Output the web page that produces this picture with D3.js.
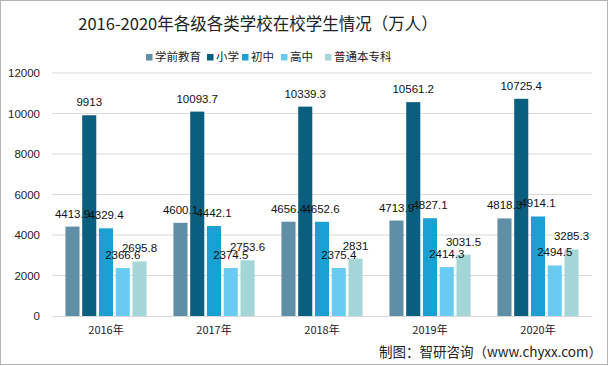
<!DOCTYPE html>
<html><head><meta charset="utf-8">
<script src="https://cdn.jsdelivr.net/npm/d3@7"></script>
<style>
html,body{margin:0;padding:0;background:#fff;}
svg{display:block;}
</style></head>
<body>
<script>
const years = ["2016年","2017年","2018年","2019年","2020年"];
const seriesNames = ["学前教育","小学","初中","高中","普通本专科"];
const preschool = [4413.9, 4600.1, 4656.4, 4713.9, 4818.3];
const primary = [9913, 10093.7, 10339.3, 10561.2, 10725.4];
const junior = [4329.4, 4442.1, 4652.6, 4827.1, 4914.1];
const senior = [2366.6, 2374.5, 2375.4, 2414.3, 2494.5];
const college = [2695.8, 2753.6, 2831, 3031.5, 3285.3];
const yTicks = [0, 2000, 4000, 6000, 8000, 10000, 12000];
const colors = ["#5e8fa7", "#0a5e80", "#1aa0d2", "#6acbf2", "#a5d6d7"];

const allSeries = [preschool, primary, junior, senior, college];
const W = 608, H = 366;
const margin = {left: 52, right: 16, top: 73, bottom: 50};
const svg = d3.select("body").append("svg").attr("width", W).attr("height", H);
const font = "'Liberation Sans', Arial, 'Noto Sans CJK SC', sans-serif";
const cjk = "'Noto Sans CJK SC', 'Liberation Sans', sans-serif";

svg.append("rect").attr("x",0.5).attr("y",0.5).attr("width",W-1).attr("height",H-2)
  .attr("fill","#fff").attr("stroke","#b4b4b4");

const x0 = d3.scaleBand().domain(years).range([margin.left, W - margin.right]).paddingInner(0.224).paddingOuter(0.112);
const x1 = d3.scaleBand().domain(seriesNames).range([0, x0.bandwidth()]).paddingInner(0.16).paddingOuter(0.08);
const y = d3.scaleLinear().domain([0, 12000]).range([H - margin.bottom, margin.top]);

// gridlines
svg.append("g").selectAll("line").data(yTicks.slice(1)).join("line")
  .attr("x1", margin.left).attr("x2", W - margin.right)
  .attr("y1", d => y(d)).attr("y2", d => y(d))
  .attr("stroke", "#d9d9d9").attr("stroke-width", 1);

// y axis
const yAxis = svg.append("g").attr("transform", `translate(${margin.left},0)`)
  .call(d3.axisLeft(y).tickValues(yTicks).tickSize(0).tickPadding(12).tickFormat(d3.format("d")));
yAxis.select(".domain").remove();
yAxis.selectAll("text").attr("font-family", font).attr("font-size", 11.5).attr("fill", "#222");

// bars
const groups = svg.append("g").selectAll("g").data(years).join("g")
  .attr("transform", d => `translate(${x0(d)},0)`);
groups.selectAll("rect").data((d, i) => seriesNames.map((s, j) => ({s, j, v: allSeries[j][i]})))
  .join("rect")
  .attr("x", d => x1(d.s)).attr("width", x1.bandwidth())
  .attr("y", d => y(d.v)).attr("height", d => y(0) - y(d.v))
  .attr("fill", d => colors[d.j]);
groups.selectAll("text").data((d, i) => seriesNames.map((s, j) => ({s, j, v: allSeries[j][i]})))
  .join("text")
  .attr("x", d => x1(d.s) + x1.bandwidth()/2).attr("y", d => y(d.v) - 9)
  .attr("text-anchor", "middle").attr("font-family", font).attr("font-size", 11.5).attr("fill", "#111")
  .text(d => String(d.v));

// x axis
const xAxis = svg.append("g").attr("transform", `translate(0,${y(0)})`)
  .call(d3.axisBottom(x0).tickSize(0).tickPadding(10));
xAxis.select(".domain").attr("stroke", "#d9d9d9");
xAxis.selectAll("text").attr("font-family", cjk).attr("font-size", 11).attr("fill", "#222");

// title
svg.append("text").attr("x", 258).attr("y", 30).attr("text-anchor", "middle")
  .attr("font-family", cjk).attr("font-size", 16.5).attr("fill", "#222")
  .text("2016-2020年各级各类学校在校学生情况（万人）");

// legend
const legendX = [146, 207, 242, 281, 325];
const lg = svg.append("g").selectAll("g").data(seriesNames).join("g")
  .attr("transform", (d, i) => `translate(${legendX[i]},57)`);
lg.append("rect").attr("x", 0).attr("y", -3).attr("width", 6.5).attr("height", 6.5).attr("fill", (d, i) => colors[i]);
lg.append("text").attr("x", 9).attr("y", 4).attr("font-family", cjk).attr("font-size", 11.5).attr("fill", "#222").text(d => d);

// source
svg.append("text").attr("x", 602).attr("y", 357).attr("text-anchor", "end")
  .attr("font-family", cjk).attr("font-size", 13.5).attr("fill", "#222")
  .text("制图：智研咨询（www.chyxx.com）");
</script>
</body></html>
